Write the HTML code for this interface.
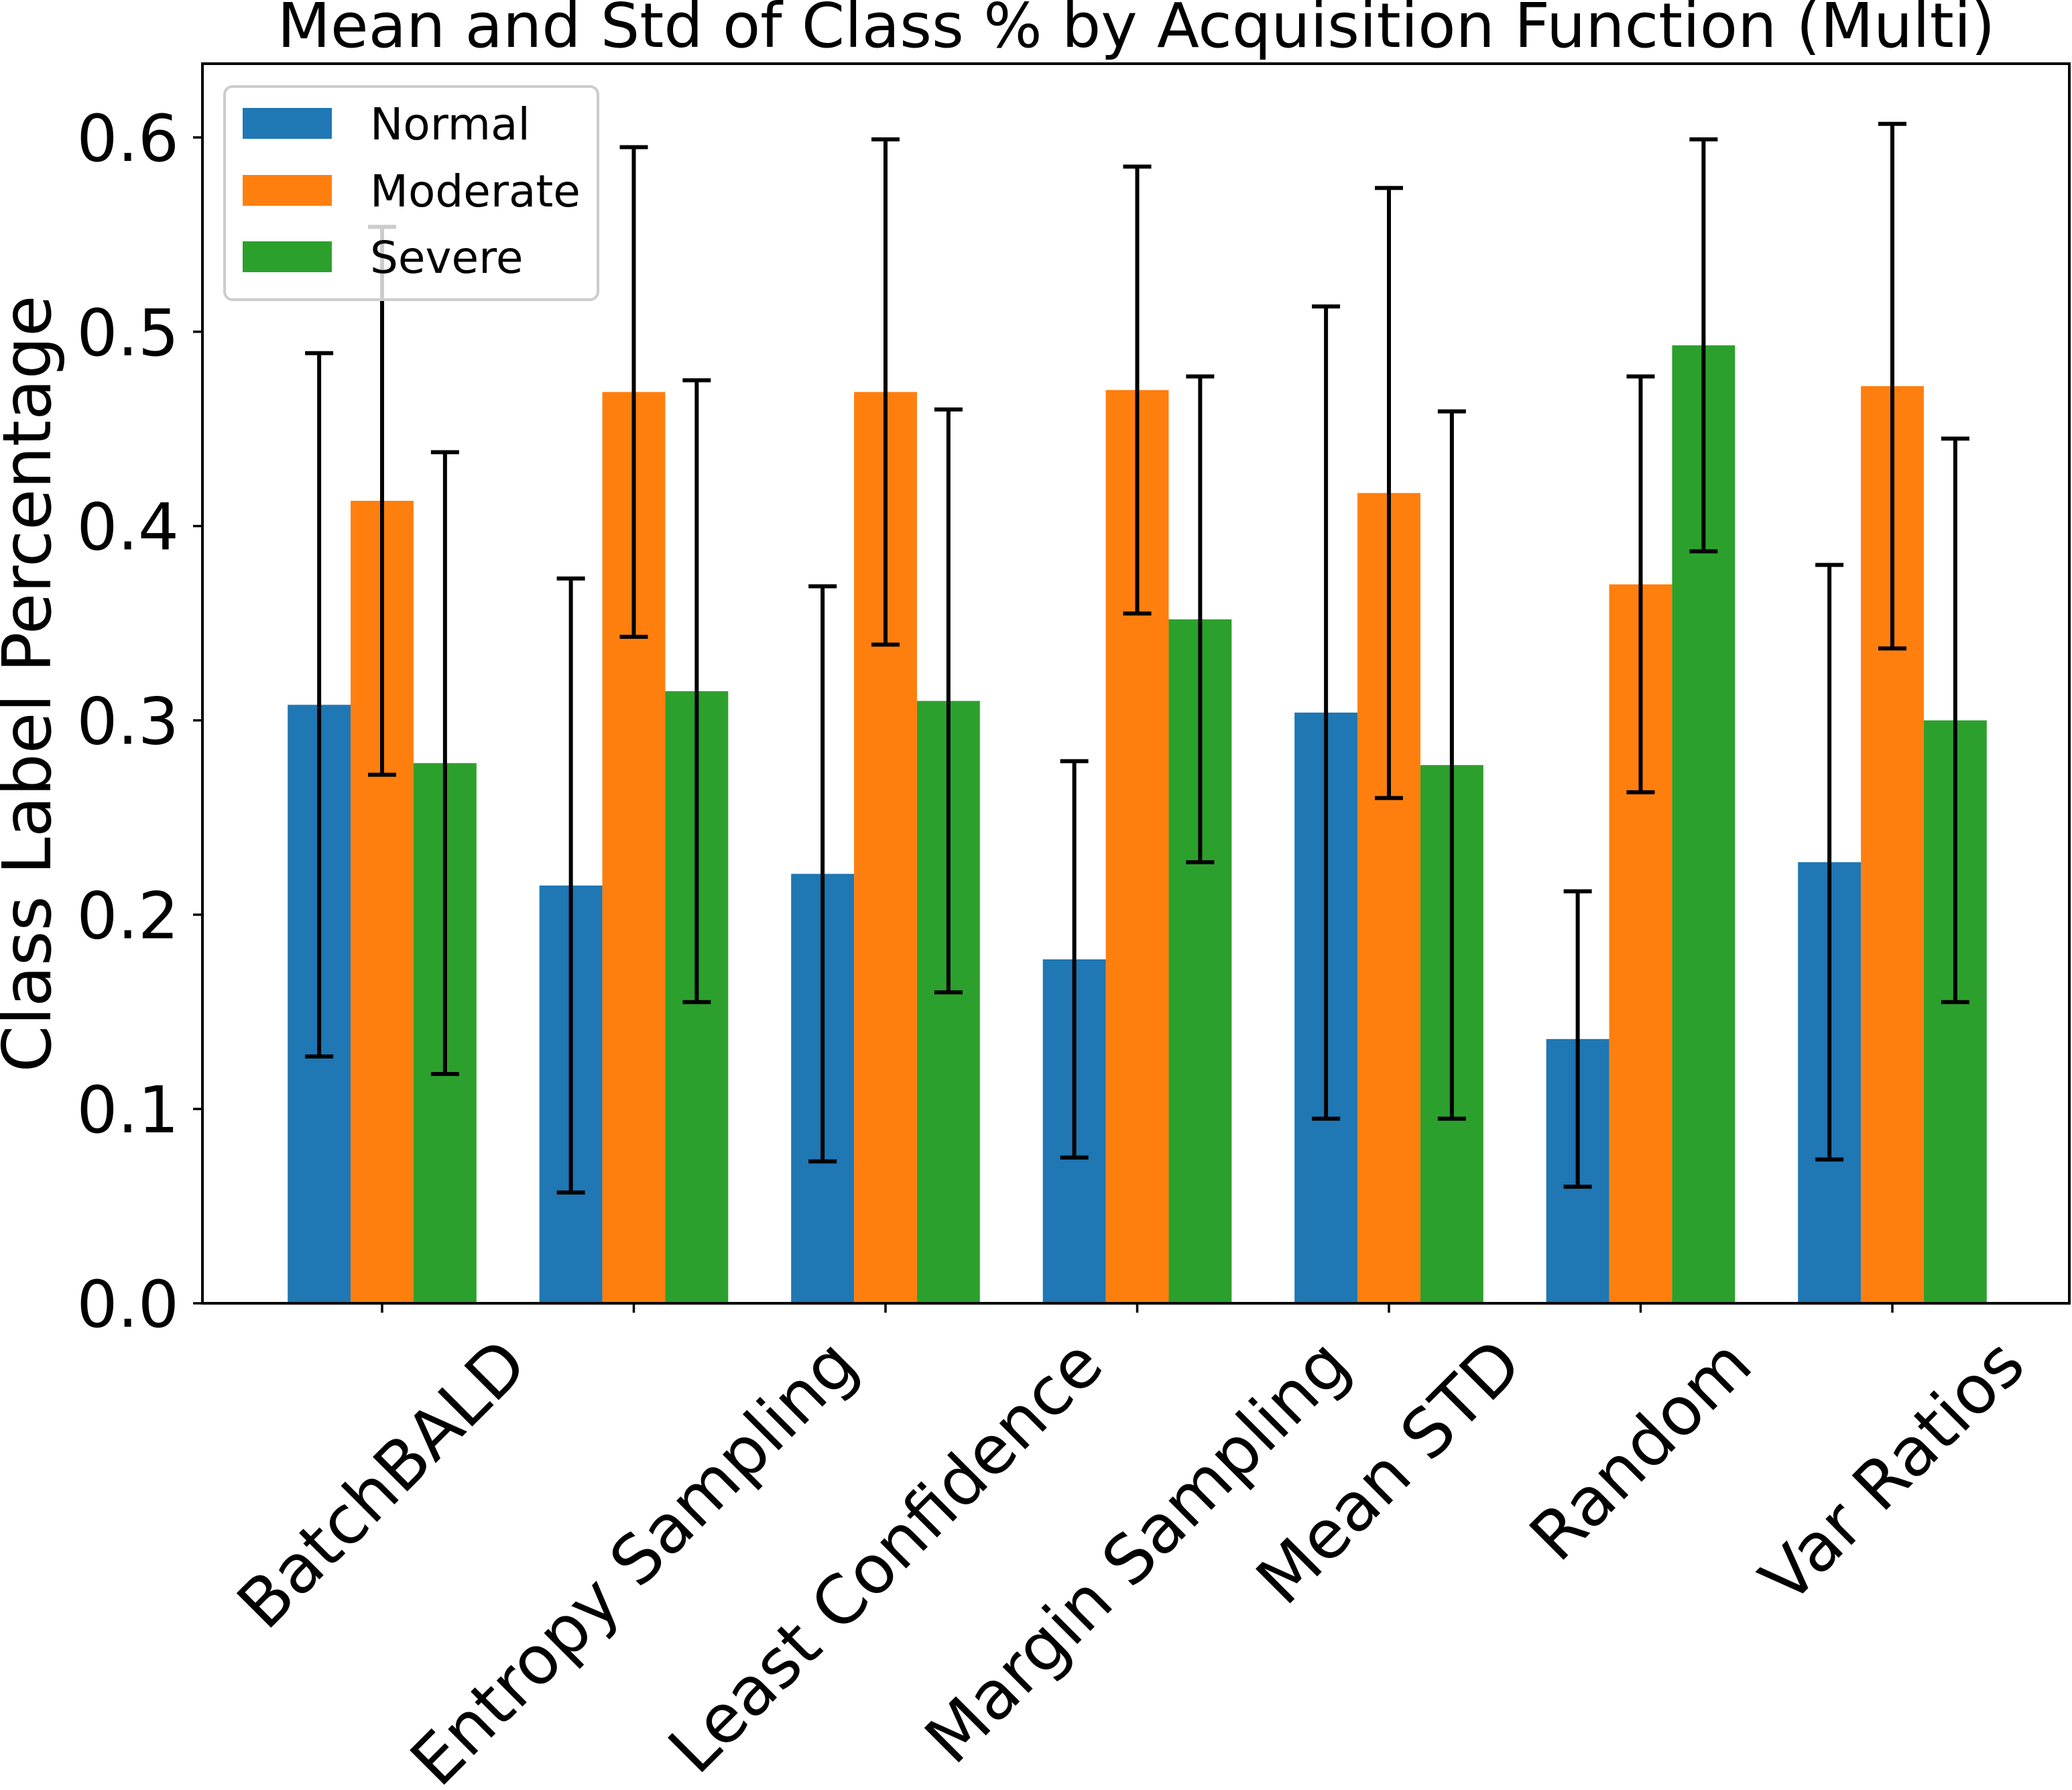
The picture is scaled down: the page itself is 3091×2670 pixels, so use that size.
<!DOCTYPE html>
<html><head><meta charset="utf-8"><style>
html,body{margin:0;padding:0;background:#fff;}
svg{display:block;font-family:"DejaVu Sans","Liberation Sans",sans-serif;}
</style></head><body>
<svg id="chart" width="3091" height="2670" viewBox="0 0 3091 2670" xmlns="http://www.w3.org/2000/svg">
<rect width="3091" height="2670" fill="#fff"/>
<text x="1695" y="70" font-size="92" text-anchor="middle">Mean and Std of Class % by Acquisition Function (Multi)</text>
<text transform="translate(75,1020) rotate(-90)" font-size="100" text-anchor="middle">Class Label Percentage</text>
<g id="plot"></g>
<g id="legend"></g>
</svg>
<script>
const categories = ["BatchBALD","Entropy Sampling","Least Confidence","Margin Sampling","Mean STD","Random","Var Ratios"];
const seriesNames = ["Normal","Moderate","Severe"];
const normalMean = [0.308,0.215,0.221,0.177,0.304,0.136,0.227];
const normalStd = [0.181,0.158,0.148,0.102,0.209,0.076,0.153];
const moderateMean = [0.413,0.469,0.469,0.470,0.417,0.370,0.472];
const moderateStd = [0.141,0.126,0.130,0.115,0.157,0.107,0.135];
const severeMean = [0.278,0.315,0.310,0.352,0.277,0.493,0.300];
const severeStd = [0.160,0.160,0.150,0.125,0.182,0.106,0.145];
const yTicks = [0.0,0.1,0.2,0.3,0.4,0.5,0.6];
const yTickLabels = ["0.0","0.1","0.2","0.3","0.4","0.5","0.6"];

const NS="http://www.w3.org/2000/svg";
const colors=["#1f77b4","#ff7f0e","#2ca02c"];
const L=302,R=3087,T=95,B=1944;
const y0=1944, y06=205;
function yScale(v){return y0-(y0-y06)*v/0.6;}
const groupStart=570, groupStep=375.5, barW=groupStep*0.25;
function xScale(i){return groupStart+i*groupStep;}
const plot=document.getElementById('plot');
function mk(tag,attrs,parent){const e=document.createElementNS(NS,tag);for(const k in attrs)e.setAttribute(k,attrs[k]);(parent||plot).appendChild(e);return e;}

const means=[normalMean,moderateMean,severeMean];
const stds=[normalStd,moderateStd,severeStd];
for(let s=0;s<3;s++){
  for(let i=0;i<categories.length;i++){
    const cx=xScale(i)+(s-1)*barW;
    const yt=yScale(means[s][i]);
    const r=mk('rect',{x:cx-barW/2,y:yt,width:barW,height:y0-yt,fill:colors[s]});
    
    
  }
}
for(let s=0;s<3;s++){
  for(let i=0;i<categories.length;i++){
    const cx=xScale(i)+(s-1)*barW;
    const lo=yScale(means[s][i]-stds[s][i]), hi=yScale(means[s][i]+stds[s][i]);
    const g=mk('g',{stroke:'#000','stroke-width':6});
    
    
    mk('line',{x1:cx,x2:cx,y1:lo,y2:hi},g);
    mk('line',{x1:cx-21,x2:cx+21,y1:lo,y2:lo},g);
    mk('line',{x1:cx-21,x2:cx+21,y1:hi,y2:hi},g);
  }
}
const frame=mk('rect',{x:L,y:T,width:R-L,height:B-T,fill:'none',stroke:'#000','stroke-width':4});


for(let k=0;k<yTicks.length;k++){
  const y=yScale(yTicks[k]);
  mk('line',{x1:L-14,x2:L,y1:y,y2:y,stroke:'#000','stroke-width':3.5});
  const t=mk('text',{x:L-35,y:y+35,'font-size':96,'text-anchor':'end'});
  
  
  t.textContent=yTickLabels[k];
}
for(let i=0;i<categories.length;i++){
  const x=xScale(i);
  mk('line',{x1:x,x2:x,y1:B,y2:B+14,stroke:'#000','stroke-width':3.5});
  const t=mk('text',{x:0,y:0,'font-size':100,'text-anchor':'middle','dominant-baseline':'central'});
  
  
  t.textContent=categories[i];
  const w=t.getComputedTextLength();
  const h=75;
  const cy=1990+(w+h)*0.7071/2;
  t.setAttribute('transform','translate('+x+','+cy+') rotate(-45)');
}
const lg=document.getElementById('legend');
mk('rect',{x:335,y:129,width:557,height:318,rx:12,fill:'#fff','fill-opacity':0.8,stroke:'#cccccc','stroke-width':4},lg);
const rowY=[184,284,383];
for(let s=0;s<3;s++){
  const p=mk('rect',{x:362,y:rowY[s]-23,width:133,height:46,fill:colors[s]},lg);
  
  
  const t=mk('text',{x:552,y:rowY[s]+24,'font-size':66},lg);
  
  
  t.textContent=seriesNames[s];
}
</script>
</body></html>
